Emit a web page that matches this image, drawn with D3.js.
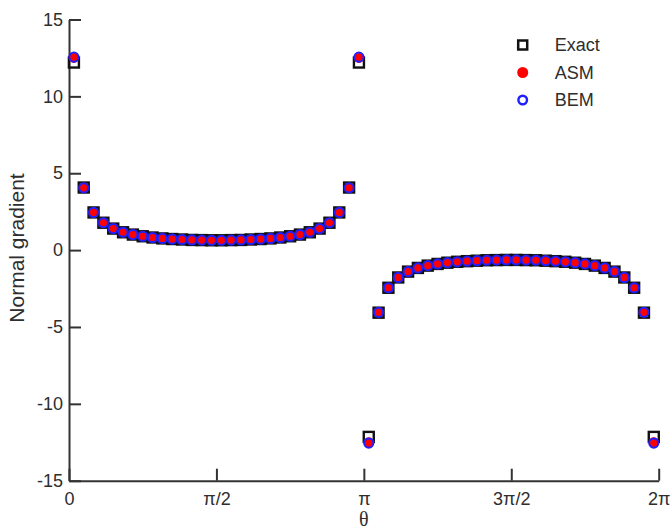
<!DOCTYPE html>
<html>
<head>
<meta charset="utf-8">
<script src="https://cdn.jsdelivr.net/npm/d3@7"></script>
<style>
  html, body { margin: 0; padding: 0; background: #fff; }
  svg { display: block; }
</style>
</head>
<body>
<svg id="chart" width="672" height="531"></svg>
<script>
// Collocation angles (degrees), element midpoints around the boundary
const thetaDeg = [3, 9, 15, 21, 27, 33, 39, 45, 51, 57, 63, 69, 75, 81, 87,
  93, 99, 105, 111, 117, 123, 129, 135, 141, 147, 153, 159, 165, 171, 177,
  183, 189, 195, 201, 207, 213, 219, 225, 231, 237, 243, 249, 255, 261, 267,
  273, 279, 285, 291, 297, 303, 309, 315, 321, 327, 333, 339, 345, 351, 357];

const exactValues = [12.20, 4.07, 2.45, 1.78, 1.40, 1.16, 1.01, 0.90, 0.82, 0.76,
  0.72, 0.69, 0.66, 0.65, 0.64, 0.64, 0.65, 0.66, 0.69, 0.72,
  0.76, 0.82, 0.90, 1.01, 1.16, 1.40, 1.78, 2.45, 4.07, 12.20,
  -12.15, -4.07, -2.45, -1.78, -1.40, -1.16, -1.01, -0.90, -0.82, -0.76,
  -0.72, -0.69, -0.66, -0.65, -0.64, -0.64, -0.65, -0.66, -0.69, -0.72,
  -0.76, -0.82, -0.90, -1.01, -1.16, -1.40, -1.78, -2.45, -4.07, -12.15];

const asmValues = [12.50, 4.05, 2.45, 1.78, 1.40, 1.16, 1.01, 0.90, 0.82, 0.76,
  0.72, 0.69, 0.66, 0.65, 0.64, 0.64, 0.65, 0.66, 0.69, 0.72,
  0.76, 0.82, 0.90, 1.01, 1.16, 1.40, 1.78, 2.45, 4.05, 12.50,
  -12.50, -4.05, -2.45, -1.78, -1.40, -1.16, -1.01, -0.90, -0.82, -0.76,
  -0.72, -0.69, -0.66, -0.65, -0.64, -0.64, -0.65, -0.66, -0.69, -0.72,
  -0.76, -0.82, -0.90, -1.01, -1.16, -1.40, -1.78, -2.45, -4.05, -12.50];

const bemValues = [12.55, 4.05, 2.45, 1.78, 1.40, 1.16, 1.01, 0.90, 0.82, 0.76,
  0.72, 0.69, 0.66, 0.65, 0.64, 0.64, 0.65, 0.66, 0.69, 0.72,
  0.76, 0.82, 0.90, 1.01, 1.16, 1.40, 1.78, 2.45, 4.05, 12.55,
  -12.55, -4.05, -2.45, -1.78, -1.40, -1.16, -1.01, -0.90, -0.82, -0.76,
  -0.72, -0.69, -0.66, -0.65, -0.64, -0.64, -0.65, -0.66, -0.69, -0.72,
  -0.76, -0.82, -0.90, -1.01, -1.16, -1.40, -1.78, -2.45, -4.05, -12.55];

const xTickValues = [0, 90, 180, 270, 360];
const xTickLabels = ["0", "π/2", "π", "3π/2", "2π"];
const yTickValues = [-15, -10, -5, 0, 5, 10, 15];
const yTickLabels = ["-15", "-10", "-5", "0", "5", "10", "15"];
const seriesNames = ["Exact", "ASM", "BEM"];

const svg = d3.select("#chart");
const axisColor = "#333";
const textColor = "#2e2e2e";

const x = d3.scaleLinear().domain([0, 360]).range([69, 658.7]);
const y = d3.scaleLinear().domain([-15, 15]).range([480.7, 19.5]);

// Axes with inward ticks, no outer ticks
const xAxis = d3.axisBottom(x)
  .tickValues(xTickValues)
  .tickFormat((d, i) => xTickLabels[i])
  .tickSizeInner(-12)
  .tickSizeOuter(0)
  .tickPadding(12);

const yAxis = d3.axisLeft(y)
  .tickValues(yTickValues)
  .tickFormat((d, i) => yTickLabels[i])
  .tickSizeInner(-12)
  .tickSizeOuter(0)
  .tickPadding(6);

function styleAxis(g) {
  g.select(".domain").attr("stroke", axisColor).attr("stroke-width", 2);
  g.selectAll(".tick line").attr("stroke", axisColor).attr("stroke-width", 2);
  g.selectAll(".tick text")
    .attr("fill", textColor)
    .style("font-family", "'Liberation Sans', Arial, sans-serif")
    .style("font-size", "18px");
}

svg.append("g")
  .attr("transform", `translate(0,${y(-15)})`)
  .call(xAxis)
  .call(styleAxis);

svg.append("g")
  .attr("transform", `translate(${x(0)},0)`)
  .call(yAxis)
  .call(styleAxis);

// Axis titles
svg.append("text")
  .attr("transform", `translate(24,248) rotate(-90)`)
  .attr("text-anchor", "middle")
  .attr("fill", textColor)
  .style("font-family", "'Liberation Sans', Arial, sans-serif")
  .style("font-size", "21px")
  .text("Normal gradient");

svg.append("text")
  .attr("x", x(180))
  .attr("y", 526)
  .attr("text-anchor", "middle")
  .attr("fill", textColor)
  .style("font-family", "'Liberation Serif', 'Times New Roman', serif")
  .style("font-size", "20px")
  .text("θ");

// Markers
const squareSide = 10;
const plot = svg.append("g");

plot.selectAll("rect.exact")
  .data(thetaDeg)
  .join("rect")
  .attr("class", "exact")
  .attr("x", (d) => x(d) - squareSide / 2)
  .attr("y", (d, i) => y(exactValues[i]) - squareSide / 2)
  .attr("width", squareSide)
  .attr("height", squareSide)
  .attr("fill", "none")
  .attr("stroke", "#111")
  .attr("stroke-width", 2.4);

plot.selectAll("circle.asm")
  .data(thetaDeg)
  .join("circle")
  .attr("class", "asm")
  .attr("cx", (d) => x(d))
  .attr("cy", (d, i) => y(asmValues[i]))
  .attr("r", 5)
  .attr("fill", "#ff0000");

plot.selectAll("circle.bem")
  .data(thetaDeg)
  .join("circle")
  .attr("class", "bem")
  .attr("cx", (d) => x(d))
  .attr("cy", (d, i) => y(bemValues[i]))
  .attr("r", 4.6)
  .attr("fill", "none")
  .attr("stroke", "#1f1fff")
  .attr("stroke-width", 2);

// Legend
const legend = svg.append("g").attr("transform", "translate(522.7,45)");
const rowGap = 27.5;

seriesNames.forEach((name, i) => {
  const row = legend.append("g").attr("transform", `translate(0,${i * rowGap})`);
  if (name === "Exact") {
    row.append("rect")
      .attr("x", -4.5).attr("y", -4.5)
      .attr("width", 9).attr("height", 9)
      .attr("fill", "none").attr("stroke", "#111").attr("stroke-width", 2.5);
  } else if (name === "ASM") {
    row.append("circle").attr("r", 5.5).attr("fill", "#ff0000");
  } else {
    row.append("circle").attr("r", 4.3)
      .attr("fill", "none").attr("stroke", "#1f1fff").attr("stroke-width", 2.4);
  }
  row.append("text")
    .attr("x", 32)
    .attr("y", 0)
    .attr("dy", "0.36em")
    .attr("fill", textColor)
    .style("font-family", "'Liberation Sans', Arial, sans-serif")
    .style("font-size", "18px")
    .text(name);
});
</script>
</body>
</html>
